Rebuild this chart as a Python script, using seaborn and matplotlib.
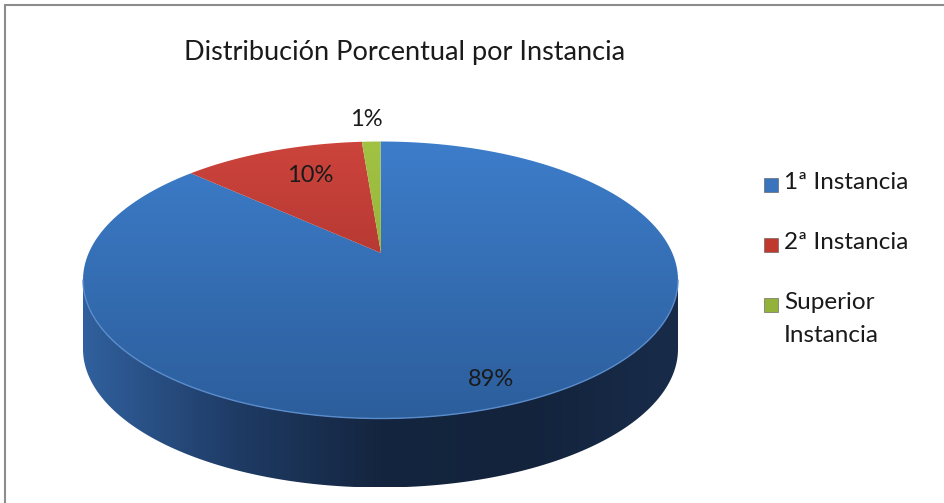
import numpy as np
import matplotlib
matplotlib.use("Agg")
import matplotlib.pyplot as plt
import seaborn as sns
from matplotlib.colors import LinearSegmentedColormap
from matplotlib.patches import Polygon

# chart data
categories = ["1ª Instancia", "2ª Instancia", "Superior\nInstancia"]
shares = [89, 10, 1]
pct_labels = ["89%", "10%", "1%"]
title = "Distribución Porcentual por Instancia"

# styling
top_colors = [("#3d7dca", "#2c5e9c"), ("#cc443c", "#9a2a26"), ("#a2c244", "#86a52e")]
legend_colors = ["#3a74bd", "#c0392f", "#93b23a"]
side_colors = ["#30609d", "#1f3c66", "#14253f", "#13233c", "#182c4a"]

W, H = 944, 503
CX, CY, RX, RY = 380.5, 280, 297.5, 138.5   # top ellipse in pixels
APEX = (381, 253)
DEPTH = 69
LABEL_XY = [(491, 380), (310, 176), (366, 119)]
LEGEND_X, LEGEND_Y0, LEGEND_STEP = 771, 185, 60

sns.set_theme(style="white")
plt.rcParams["font.family"] = ["Lato", "DejaVu Sans"]


def rim(t):
    return CX + RX * np.cos(t), CY - RY * np.sin(t)


def gradient(ax, colors, extent, horizontal, clip):
    cmap = LinearSegmentedColormap.from_list("g", colors)
    ramp = np.linspace(0, 1, 256)
    img = ramp.reshape(1, -1) if horizontal else ramp.reshape(-1, 1)
    im = ax.imshow(img, cmap=cmap, extent=extent, aspect="auto",
                   origin="upper", interpolation="bilinear", zorder=2)
    im.set_clip_path(clip)


fig = plt.figure(figsize=(W / 100, H / 100), dpi=100)
ax = fig.add_axes([0, 0, 1, 1])
ax.set_xlim(0, W)
ax.set_ylim(H, 0)
ax.axis("off")

# chart border
ax.plot([5, 5], [5, H], color="#8c8c8c", lw=1.5)
ax.plot([5, W], [5, 5], color="#8c8c8c", lw=1.5)

# side wall (front half of the ellipse)
t = np.linspace(np.pi, 2 * np.pi, 200)
x_top, y_top = rim(t)
side_pts = np.vstack([np.column_stack([x_top, y_top]),
                      np.column_stack([x_top[::-1], y_top[::-1] + DEPTH])])
side = Polygon(side_pts, closed=True, facecolor="none", edgecolor="none")
ax.add_patch(side)
gradient(ax, side_colors, [CX - RX, CX + RX, CY + RY + DEPTH, CY - 5], True, side)

# top face slices, clockwise from 12 o'clock
edges = 90 - 360 * np.concatenate([[0], np.cumsum(shares)]) / np.sum(shares)
for i, val in enumerate(shares):
    tt = np.radians(np.linspace(edges[i], edges[i + 1], 200))
    xr, yr = rim(tt)
    pts = np.vstack([[APEX], np.column_stack([xr, yr])])
    wedge = Polygon(pts, closed=True, facecolor="none", edgecolor="none")
    ax.add_patch(wedge)
    gradient(ax, top_colors[i], [CX - RX, CX + RX, CY + RY, CY - RY], False, wedge)
    ax.text(*LABEL_XY[i], pct_labels[i], fontsize=17, color="#1a1a1a",
            ha="center", va="center", zorder=5)

# light front rim
ax.plot(x_top, y_top, color="#5a8ccc", lw=1, zorder=3)

# restore limits after imshow
ax.set_xlim(0, W)
ax.set_ylim(H, 0)

ax.text(405, 52, title, fontsize=19.5, color="#1a1a1a", ha="center", va="center")

# legend
for i, name in enumerate(categories):
    y = LEGEND_Y0 + i * LEGEND_STEP
    ax.scatter([LEGEND_X], [y], marker="s", s=95, color=legend_colors[i],
               edgecolor="#555555", linewidth=0.4, zorder=5)
    ax.text(784, y - 13, name, fontsize=17.5, color="#1a1a1a", ha="left",
            va="top", linespacing=1.7)

fig.savefig("out.png", dpi=100, facecolor="white")
